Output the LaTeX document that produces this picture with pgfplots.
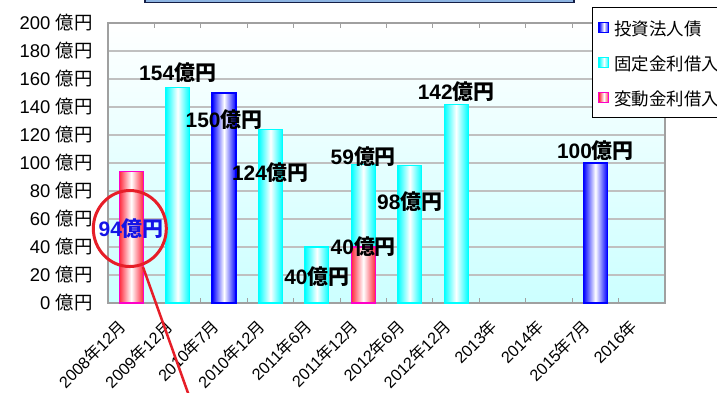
\documentclass[border=0pt]{standalone}
\usepackage{pgfplots}
\pgfplotsset{compat=1.18}
\usepackage{fontspec}
\setmainfont{Liberation Sans}
\newfontfamily\cjk{Noto Sans CJK JP}
\newcommand\oku{{\cjk 億円}}
\newcommand\nen{{\cjk 年}}
\newcommand\tsuki{{\cjk 月}}

\definecolor{barblue}{RGB}{0,0,255}
\definecolor{barcyan}{RGB}{0,255,255}
\definecolor{barred}{RGB}{255,40,60}
\definecolor{barpink}{RGB}{255,0,200}
\definecolor{bgcyan}{RGB}{204,255,255}
\definecolor{gridgray}{RGB}{192,192,192}
\definecolor{framegray}{RGB}{160,160,160}
\definecolor{titlefill}{RGB}{141,180,226}
\definecolor{titledraw}{RGB}{20,30,70}
\definecolor{ringred}{RGB}{230,30,40}
\definecolor{labelblue}{RGB}{20,20,230}

% every bar is its own plot so that each one gets its own cylinder shading
\pgfplotsset{
  bars/.style={ybar, bar width=24bp, bar shift=0pt, line width=1.2bp,
    legend image code/.code={\draw[##1, line width=1bp] (0bp,-5bp) rectangle (10bp,5bp);}},
  blue bar/.style={bars, draw=barblue, left color=barblue, right color=barblue, middle color=white},
  cyan bar/.style={bars, draw=barcyan, left color=barcyan, right color=barcyan, middle color=white},
  red bar/.style={bars, draw=barpink, left color=barred, right color=barred, middle color=white},
}
\tikzset{lbl/.style={font=\fontsize{21}{21}\selectfont\bfseries, inner sep=0pt}}

\begin{document}
\begin{tikzpicture}
\path[use as bounding box] (-108bp,-90bp) rectangle (609bp,303bp);
\clip (-108bp,-90bp) rectangle (609bp,303bp);
\begin{axis}[
  at={(0,0)}, anchor=south west,
  scale only axis, width=557bp, height=280bp,
  clip=false,
  xmin=-0.5, xmax=11.5, ymin=0, ymax=200,
  xtick={0,...,11},
  xticklabels={2008\nen12\tsuki, 2009\nen12\tsuki, 2010\nen7\tsuki, 2010\nen12\tsuki,
    2011\nen6\tsuki, 2011\nen12\tsuki, 2012\nen6\tsuki, 2012\nen12\tsuki,
    2013\nen, 2014\nen, 2015\nen7\tsuki, 2016\nen},
  minor xtick={0.5,1.5,...,10.5},
  major x tick style={draw=none},
  minor x tick style={framegray, line width=1bp},
  minor tick length=5bp,
  tick align=inside,
  ytick={0,20,...,200},
  yticklabels={0 \oku, 20 \oku, 40 \oku, 60 \oku, 80 \oku, 100 \oku,
    120 \oku, 140 \oku, 160 \oku, 180 \oku, 200 \oku},
  y tick style={draw=none},
  ymajorgrids, grid style={gridgray, line width=1.2bp},
  axis line style={framegray, line width=1.5bp},
  axis background/.style={shade, top color=white, bottom color=bgcyan},
  yticklabel style={font=\fontsize{18.5}{18.5}\selectfont, xshift=-12bp},
  xticklabel style={font=\fontsize{16.3}{16.3}\selectfont, xshift=-6bp, yshift=-18bp, rotate=45, anchor=east},
  legend cell align=left,
  legend style={at={(rel axis cs:0.869,1.057)}, anchor=north west,
    draw=black, line width=0.8bp, fill=white,
    font=\fontsize{17.5}{17.5}\selectfont\cjk,
    row sep=11bp, inner xsep=6bp, inner ysep=8bp,
    /tikz/every odd column/.append style={column sep=3bp},
    nodes={inner sep=2bp, text height=18bp, text depth=2bp}},
]
% investment corporation bonds
\addplot[blue bar] coordinates {(2,150)};
\addlegendentry{投資法人債}
\addplot[blue bar, forget plot] coordinates {(10,100)};
% fixed-rate loans (the 2011/12 bar is 59 stacked on the 40 floating-rate loan)
\addplot[cyan bar] coordinates {(1,154)};
\addlegendentry{固定金利借入}
\addplot[cyan bar, forget plot] coordinates {(3,124)};
\addplot[cyan bar, forget plot] coordinates {(4,40)};
\addplot[cyan bar, forget plot] coordinates {(5,99)};
\addplot[cyan bar, forget plot] coordinates {(6,98)};
\addplot[cyan bar, forget plot] coordinates {(7,142)};
% floating-rate loans
\addplot[red bar] coordinates {(0,94)};
\addlegendentry{変動金利借入}
\addplot[red bar, forget plot] coordinates {(5,40)};

% value labels
\node[lbl, text=labelblue] at (axis cs:0,52.9) {94\oku};
\node[lbl] at (axis cs:1,164.3) {154\oku};
\node[lbl] at (axis cs:2,130.7) {150\oku};
\node[lbl] at (axis cs:3,92.9) {124\oku};
\node[lbl] at (axis cs:4,18.6) {40\oku};
\node[lbl] at (axis cs:5,40) {40\oku};
\node[lbl] at (axis cs:5,104.3) {59\oku};
\node[lbl] at (axis cs:6,72.1) {98\oku};
\node[lbl] at (axis cs:7,150.7) {142\oku};
\node[lbl] at (axis cs:10,108.6) {100\oku};

% callout ring
\draw[ringred, line width=3bp] (axis cs:-0.03,53.2) ellipse [x radius=36.5bp, y radius=38bp];
\draw[ringred, line width=2.5bp] (axis cs:0.254,25.7) -- (axis cs:1.278,-69.3);
\end{axis}
% title frame
\draw[titledraw, line width=1.5bp, fill=titlefill] (37bp,300.5bp) rectangle (466bp,330bp);
\end{tikzpicture}
\end{document}
